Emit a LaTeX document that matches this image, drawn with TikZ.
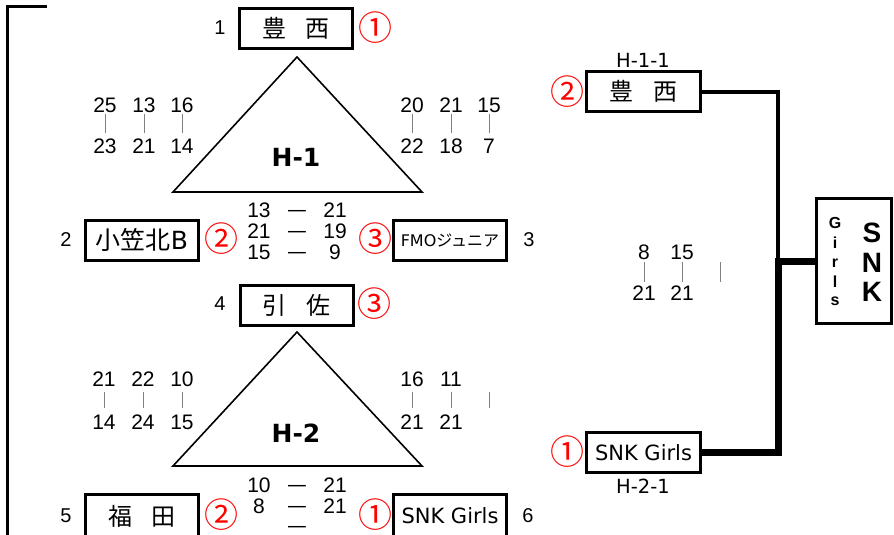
\documentclass[tikz,border=0pt]{standalone}
\usepackage{fontspec}
\setmainfont{Liberation Sans}
\newfontfamily\jp{Noto Sans CJK JP}
\newfontfamily\dv{DejaVu Sans}
\usetikzlibrary{positioning}

\begin{document}
\begin{tikzpicture}[x=1pt,y=-1pt,line join=miter,
  team/.style={draw,line width=3pt,minimum width=113pt,minimum height=40pt,inner sep=0pt},
  seed/.style={font=\fontsize{20}{20}\selectfont},
  place/.style={text=red,font=\jp\fontsize{34}{34}\selectfont,inner sep=0pt},
  score/.style={font=\fontsize{21}{21}\selectfont,inner sep=1pt},
  versus/.style={font=\fontsize{21}{21}\selectfont,inner sep=0pt,anchor=base},
  bar/.style={draw=gray,line width=0.8pt},
  group/.style={font=\dv\bfseries\fontsize{25}{25}\selectfont},
  code/.style={font=\dv\fontsize{19.5}{19.5}\selectfont}]

\useasboundingbox (0,0) rectangle (894,535);

\draw[line width=3pt] (47,7) -- (7.5,7) -- (7.5,545);

\node[team,font=\jp\fontsize{24}{24}\selectfont] (1) at (296,28.5) {豊\hspace{20pt}西};
\node[team,font=\jp\fontsize{25}{25}\selectfont] (2) at (142,240) {小笠北{\dv B}};
\node[team,font=\dv\fontsize{16}{16}\selectfont] (3) at (450,240) {FMO{\jp ジュニア}};
\node[team,font=\jp\fontsize{24}{24}\selectfont] (4) at (296.5,305) {引\hspace{20pt}佐};
\node[team,minimum height=44pt,font=\jp\fontsize{24}{24}\selectfont] (5) at (142,516) {福\hspace{20pt}田};
\node[team,minimum height=44pt,font=\dv\fontsize{21}{21}\selectfont] (6) at (450,516) {SNK Girls};

\node[seed] (n1) at (220,28) {1};
\node[seed] (n2) at (66,240) {2};
\node[seed] (n3) at (529,240) {3};
\node[seed] (n4) at (220,304) {4};
\node[seed] (n5) at (66,516) {5};
\node[seed] (n6) at (528,516) {6};

\node[place] (p1) at (375,28) {①};
\node[place] (p2) at (221,239) {②};
\node[place] (p3) at (375,239) {③};
\node[place] (p4) at (374,304) {③};
\node[place] (p5) at (221,515) {②};
\node[place] (p6) at (375,515) {①};

\draw[line width=1.6pt] (297,57) -- (422,192) -- (173,192) -- cycle;
\node[group] (g1) at (296,157) {H-1};
\draw[line width=1.6pt] (297,332) -- (422,466) -- (173,466) -- cycle;
\node[group] (g2) at (296,433) {H-2};

\foreach \x/\a/\b [count=\i] in {105/25/23,144/13/21,182/16/14,412/20/22,451/21/18,489/15/7}{
  \node[score] (h1a\i) at (\x,105) {\a};
  \node[score] (h1b\i) at (\x,146) {\b};
  \draw[bar] (\x,114) -- (\x,133);
}
\foreach \x/\a/\b [count=\i] in {104/21/14,143/22/24,182/10/15,412/16/21,451/11/21,489//}{
  \node[score] (h2a\i) at (\x,379) {\a};
  \node[score] (h2b\i) at (\x,422) {\b};
  \draw[bar] (\x,392) -- (\x,408);
}
\foreach \y/\a/\b [count=\i] in {210/13/21,231/21/19,252/15/9}{
  \node[score] (m1a\i) at (259,\y) {\a};
  \node[versus] (m1d\i) at (297,\y+6) {\scalebox{0.85}[1]{—}};
  \node[score] (m1b\i) at (335,\y) {\b};
}
\foreach \y/\a/\b [count=\i] in {485/10/21,506/8/21,526//}{
  \node[score] (m2a\i) at (259,\y) {\a};
  \node[versus] (m2d\i) at (297,\y+6) {\scalebox{0.85}[1]{—}};
  \node[score] (m2b\i) at (335,\y) {\b};
}

\node[team,minimum width=114pt,font=\jp\fontsize{24}{24}\selectfont] (h11) at (643.5,91.5) {豊\hspace{20pt}西};
\node[code] (c11) at (643,60) {H-1-1};
\node[place] (q11) at (567,92) {②};
\node[team,minimum width=114pt,font=\dv\fontsize{21}{21}\selectfont] (h21) at (643.5,452.5) {SNK Girls};
\node[code] (c21) at (643,486) {H-2-1};
\node[place] (q21) at (567,452) {①};

\foreach \x/\a/\b [count=\i] in {644/8/21,682/15/21,720//}{
  \node[score] (fa\i) at (\x,252) {\a};
  \node[score] (fb\i) at (\x,293) {\b};
  \draw[bar] (\x,262) -- (\x,282);
}

\node[draw,line width=3pt,minimum width=75pt,minimum height=125pt] (win) at (854,261) {};
\foreach \c/\y [count=\i] in {G/223,i/243,r/263,l/282,s/301}
  \node[font=\bfseries\fontsize{16}{16}\selectfont,inner sep=0pt] (gl\i) at (835,\y) {\c};
\foreach \c/\y [count=\i] in {S/233,N/263,K/292}
  \node[font=\bfseries\fontsize{28}{28}\selectfont,inner sep=0pt] (sn\i) at (872,\y) {\c};

\coordinate (j) at (778,261);
\draw[line width=4pt] (h11.east) -| (j);
\draw[line width=7pt] (h21.east) -| (j) -- (win.west);
\end{tikzpicture}
\end{document}
